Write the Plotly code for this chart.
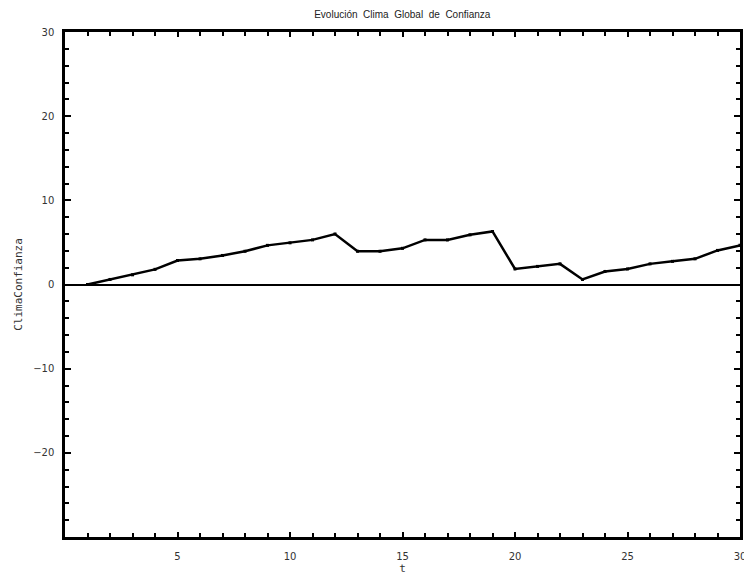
import plotly.graph_objects as go

t = list(range(1, 31))
clima = [0.0, 0.6, 1.15, 1.8, 2.85, 3.05, 3.45, 3.95, 4.65, 4.95,
         5.3, 6.0, 3.95, 3.95, 4.3, 5.3, 5.3, 5.9, 6.3, 1.85,
         2.15, 2.45, 0.6, 1.55, 1.85, 2.45, 2.75, 3.05, 4.05, 4.65]

x_ticks = [5, 10, 15, 20, 25, 30]
y_ticks = [-20, -10, 0, 10, 20, 30]

fig = go.Figure()
fig.add_trace(go.Scatter(
    x=t, y=clima, mode="lines+markers",
    line=dict(color="black", width=2.5),
    marker=dict(color="black", size=3, symbol="square"),
    showlegend=False,
))

fig.update_layout(
    width=744, height=571,
    margin=dict(l=57, r=6, t=24, b=42),
    paper_bgcolor="white", plot_bgcolor="white",
    title=dict(text="Evolución  Clima  Global  de  Confianza", x=0.53, xanchor="center",
               y=0.995, yanchor="top",
               font=dict(family="Liberation Sans Narrow, Liberation Sans", size=10, color="#222")),
    font=dict(family="DejaVu Sans", size=10, color="#333"),
)
fig.update_xaxes(
    range=[0, 30], tickvals=x_ticks, ticks="inside", ticklen=5, tickwidth=2,
    tickcolor="black", showline=True, linecolor="black", linewidth=2.5,
    mirror="ticks", showgrid=False, zeroline=False, ticklabelstandoff=8,
    minor=dict(dtick=1, ticks="inside", ticklen=4, tickwidth=2, tickcolor="black"),
    title=dict(text="t", font=dict(family="DejaVu Sans Mono", size=11, color="#333"), standoff=3),
    tickfont=dict(family="DejaVu Sans", size=10, color="#333"),
)
fig.update_yaxes(
    range=[-30, 30], tickvals=y_ticks, ticks="inside", ticklen=6, tickwidth=2,
    tickcolor="black", showline=True, linecolor="black", linewidth=2.5,
    mirror="ticks", showgrid=False, ticklabelstandoff=6,
    zeroline=True, zerolinecolor="black", zerolinewidth=2,
    minor=dict(dtick=2, ticks="inside", ticklen=4, tickwidth=2, tickcolor="black"),
    title=dict(text="ClimaConfianza", font=dict(family="DejaVu Sans Mono", size=11, color="#333"), standoff=9),
    tickfont=dict(family="DejaVu Sans", size=10, color="#333"),
)

fig.write_html("out.html")
